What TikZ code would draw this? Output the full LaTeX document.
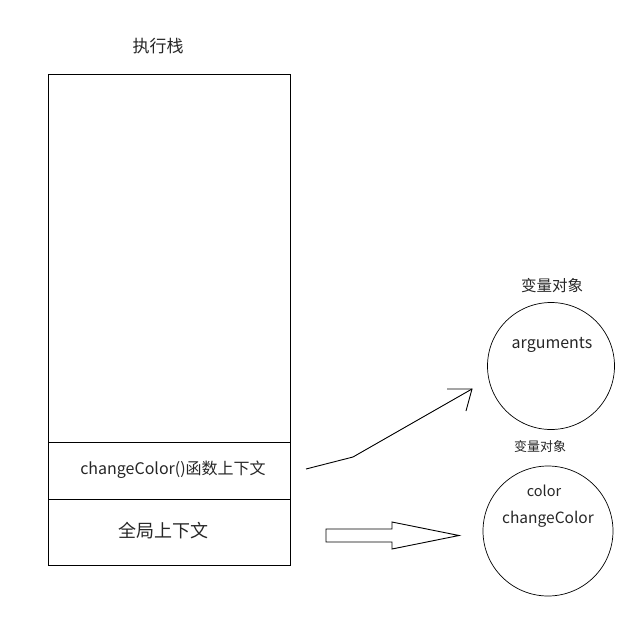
\documentclass[tikz,border=0pt]{standalone}
\usepackage{fontspec}
\setmainfont{Noto Sans CJK SC}
\usetikzlibrary{positioning}

\tikzset{
  box/.style={draw, line width=1pt, minimum width=242pt, inner sep=0pt, outer sep=0pt},
  vobj/.style={draw, circle, line width=0.7pt, inner sep=0pt},
  txt/.style={inner sep=0pt, text=black!85}
}

\begin{document}
\begin{tikzpicture}[x=1pt, y=-1pt]
      \useasboundingbox (0,0) rectangle (635,627);

      % Execution stack
      \node[box, minimum height=368pt] (empty) at (169,258) {};
      \node[box, minimum height=57pt, below=0pt of empty] (fnctx) {};
      \node[box, minimum height=66pt, below=0pt of fnctx] (globalctx) {};
      \node[txt, font=\fontsize{17}{20}\selectfont] (stacktitle) at (158,46) {执行栈};
      \node[txt, font=\fontsize{16}{19}\selectfont] (fnlabel) at (173,470) {changeColor()函数上下文};
      \node[txt, font=\fontsize{18}{21}\selectfont] (globallabel) at (163,531) {全局上下文};

      % Variable objects
      \node[vobj, minimum size=127pt] (vofn) at (551,366) {};
      \node[vobj, minimum size=130pt] (voglobal) at (548,531) {};
      \node[txt, font=\fontsize{15.5}{18}\selectfont] (vofntitle) at (552,286) {变量对象};
      \node[txt, font=\fontsize{13}{15}\selectfont] (voglobaltitle) at (540,447) {变量对象};
      \node[txt, font=\fontsize{16}{19}\selectfont] (args) at (552,345) {arguments};
      \node[txt, font=\fontsize{14.5}{17}\selectfont] (color) at (544,491) {color};
      \node[txt, font=\fontsize{15.5}{18}\selectfont] (changecolor) at (548,519) {changeColor};

      % Arrow from function context
      \coordinate (fnfrom) at (306,469);
      \coordinate (fnbend) at (353,457);
      \coordinate (fntip) at (472,389);
      \draw[line width=0.9pt] (fnfrom) -- (fnbend) -- (fntip);
      \draw[line width=0.9pt] (447,389) -- (fntip) -- (466,411);

      % Block arrow from global context
      \draw[line width=0.9pt] (326,529) -- (392,529) -- (392,522) -- (459,535.5)
        -- (392,549) -- (392,542) -- (326,542) -- cycle;
  \end{tikzpicture}
\end{document}
